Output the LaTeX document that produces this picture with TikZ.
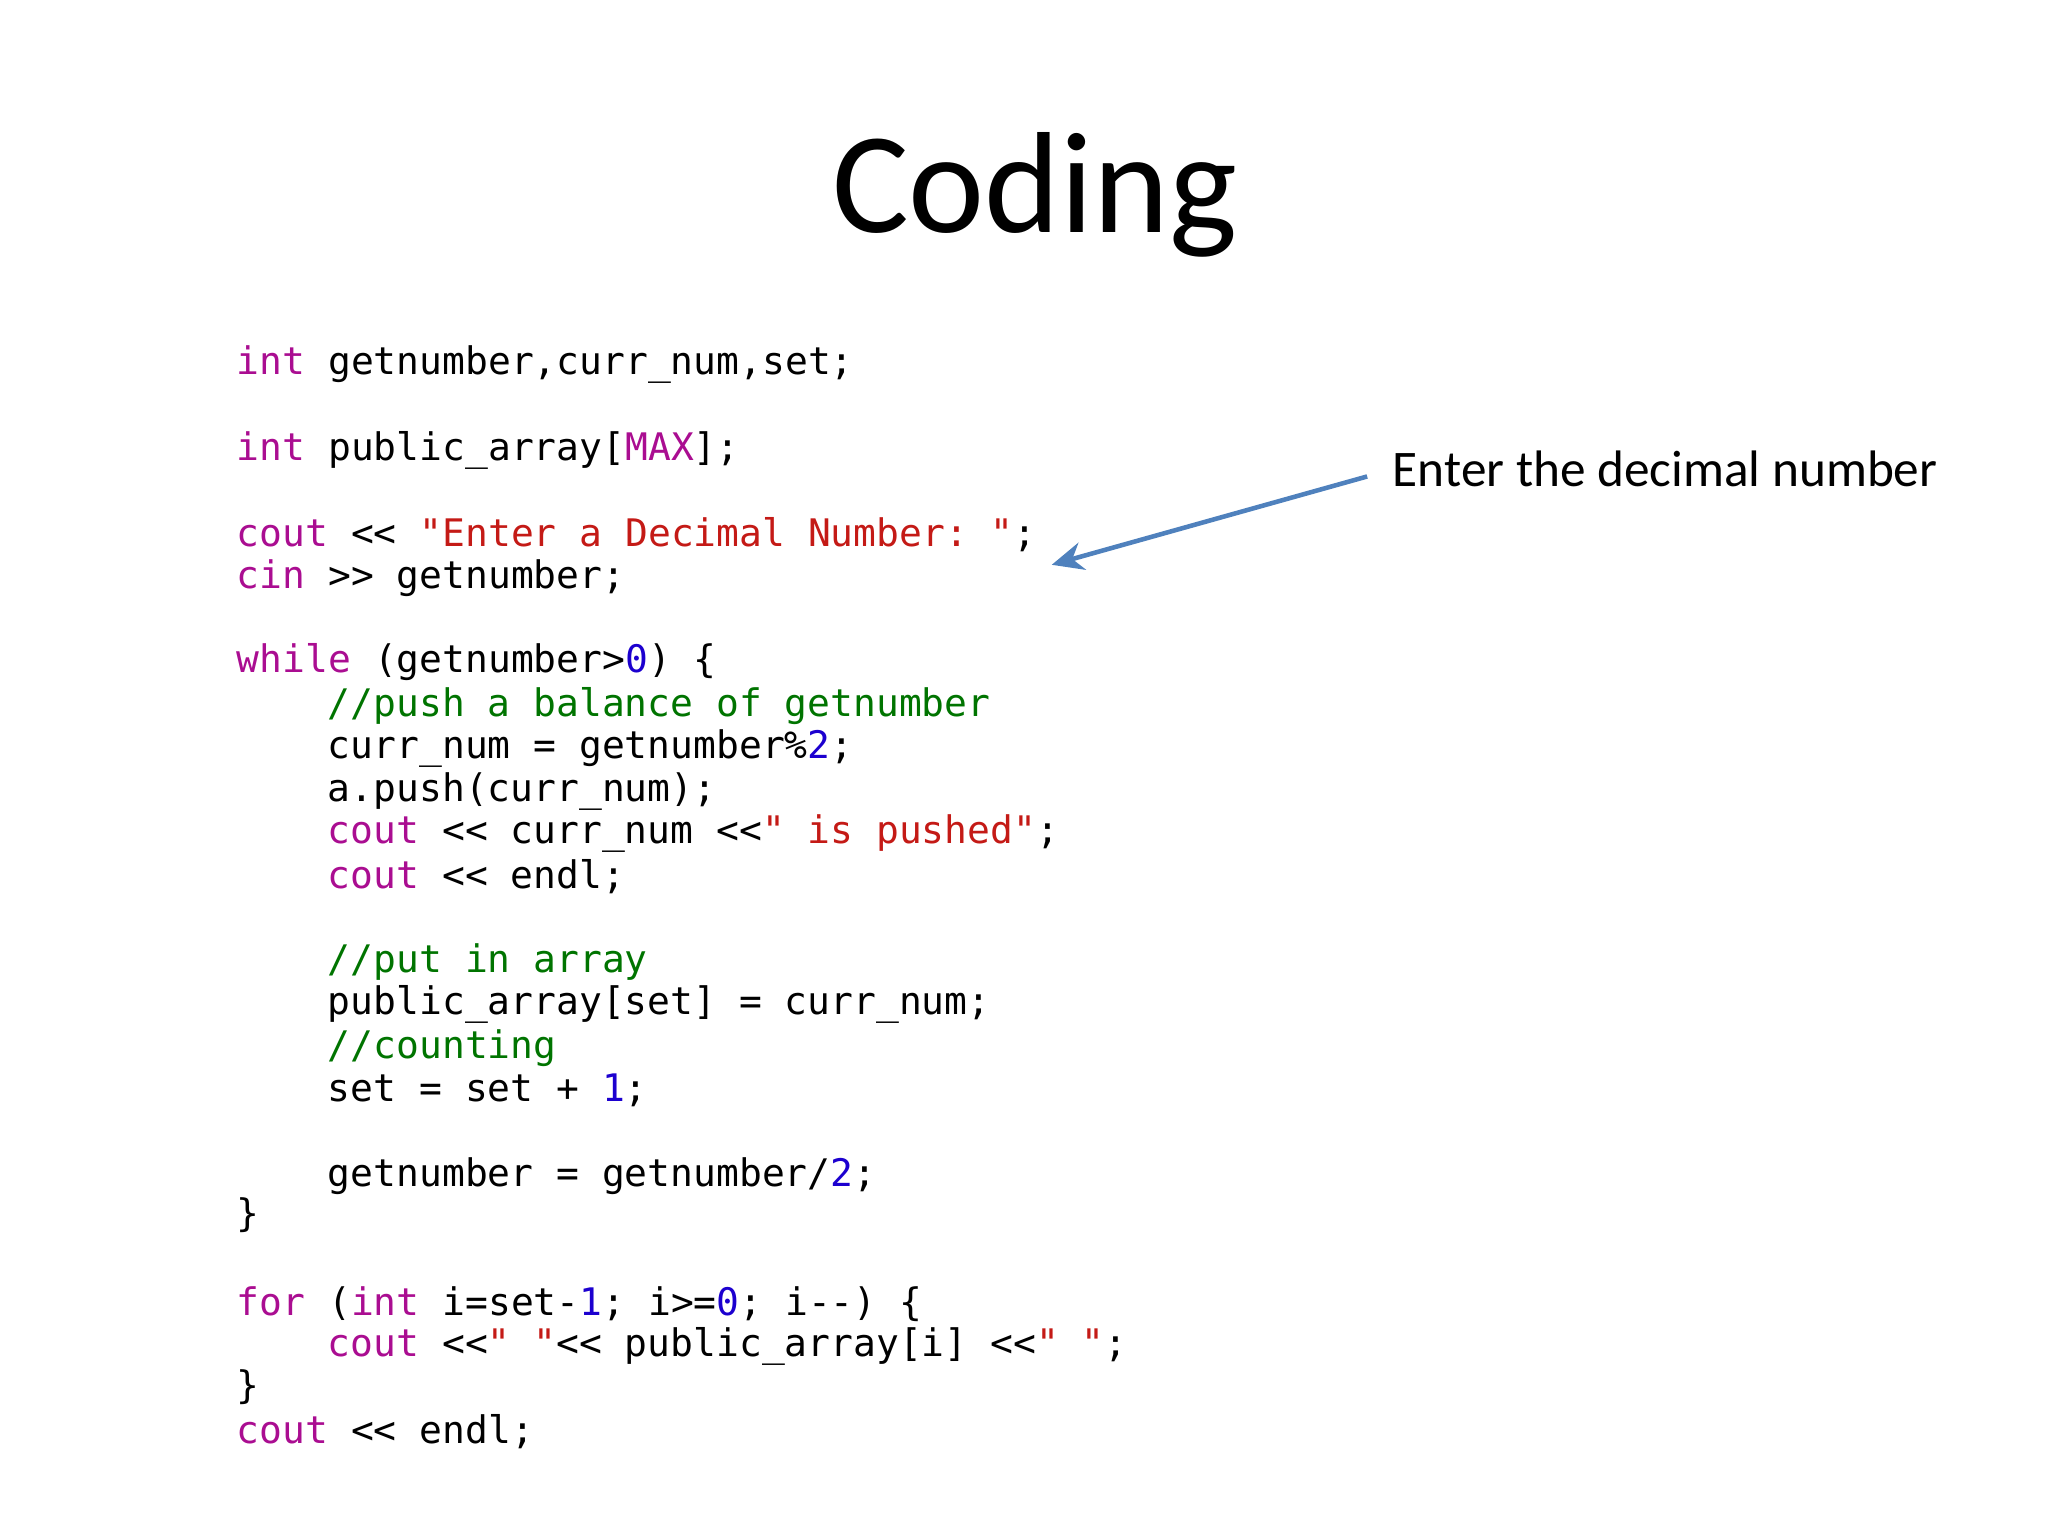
\documentclass[tikz,border=0pt]{standalone}
\usepackage{fontspec}
\setmainfont{Carlito}
\setmonofont{DejaVu Sans Mono}
\usetikzlibrary{arrows.meta}
\definecolor{kw}{HTML}{AA0D91}
\definecolor{str}{HTML}{C41A16}
\definecolor{num}{HTML}{1C00CF}
\definecolor{cmt}{HTML}{007400}
\definecolor{arr}{HTML}{4F81BD}
\newcommand{\K}[1]{\textcolor{kw}{#1}}
\newcommand{\Sx}[1]{\textcolor{str}{#1}}
\newcommand{\N}[1]{\textcolor{num}{#1}}
\newcommand{\C}[1]{\textcolor{cmt}{#1}}
\begin{document}
\begin{tikzpicture}[x=0.0132cm,y=-0.0132cm,
  code/.style={anchor=west,inner sep=0pt,font=\ttfamily\fontsize{10.8}{12}\selectfont}]
\useasboundingbox (0,0) rectangle (1552,1164);
\node[font=\fontsize{41}{48}\selectfont] (title) at (784,148) {Coding};
\node[code] (l1) at (179,276) {\K{int} getnumber,curr\_num,set;};
\node[code] (l2) at (179,341) {\K{int} public\_array[\K{MAX}];};
\node[code] (l3) at (179,405) {\K{cout} << \Sx{"Enter a Decimal Number: "};};
\node[code] (l4) at (179,438) {\K{cin} >> getnumber;};
\node[code] (l5) at (179,502) {\K{while} (getnumber>\N{0}) \{};
\node[code] (l6) at (248,535) {\C{//push a balance of getnumber}};
\node[code] (l7) at (248,567) {curr\_num = getnumber\%\N{2};};
\node[code] (l8) at (248,600) {a.push(curr\_num);};
\node[code] (l9) at (248,632) {\K{cout} << curr\_num <<\Sx{" is pushed"};};
\node[code] (l10) at (248,664) {\K{cout} << endl;};
\node[code] (l11) at (248,729) {\C{//put in array}};
\node[code] (l12) at (248,761) {public\_array[set] = curr\_num;};
\node[code] (l13) at (248,794) {\C{//counting}};
\node[code] (l14) at (248,826) {set = set + \N{1};};
\node[code] (l15) at (248,891) {getnumber = getnumber/\N{2};};
\node[code] (l16) at (179,921) {\}};
\node[code] (l17) at (179,988) {\K{for} (\K{int} i=set-\N{1}; i>=\N{0}; i-{}-) \{};
\node[code] (l18) at (248,1020) {\K{cout} <<\Sx{" "}<< public\_array[i] <<\Sx{" "};};
\node[code] (l19) at (179,1051) {\}};
\node[code] (l20) at (179,1085) {\K{cout} << endl;};
\node[anchor=west,inner sep=0pt,font=\fontsize{14.6}{17}\selectfont] (lbl) at (1055,355) {Enter the decimal number};
\coordinate (tip) at (797,428);
\draw[arr,line width=1.3pt,-{Stealth[length=9pt,width=8pt]}] ([xshift=-0.25cm,yshift=-0.08cm]lbl.west) -- (tip);
\end{tikzpicture}
\end{document}
